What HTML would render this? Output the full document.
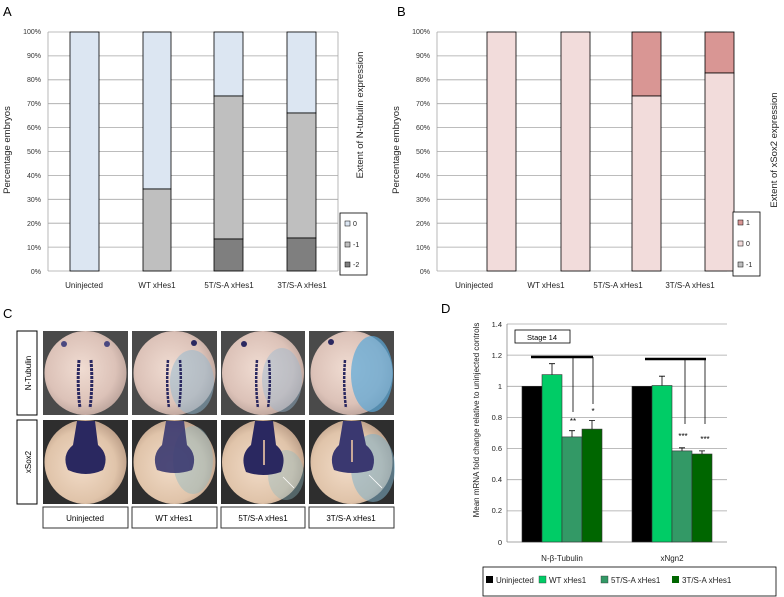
<!DOCTYPE html>
<html><head><meta charset="utf-8"><style>
body{margin:0;background:#fff}
svg{display:block;font-family:"Liberation Sans",sans-serif}
</style></head><body>
<svg width="784" height="597" viewBox="0 0 784 597" xmlns="http://www.w3.org/2000/svg">
<defs>
<radialGradient id="emb" cx="45%" cy="45%" r="60%"><stop offset="0" stop-color="#f0dcd2"/><stop offset="0.7" stop-color="#dcc2b8"/><stop offset="1" stop-color="#b8a098"/></radialGradient>
<radialGradient id="emb2" cx="45%" cy="55%" r="60%"><stop offset="0" stop-color="#f2dcc8"/><stop offset="0.7" stop-color="#e0c4aa"/><stop offset="1" stop-color="#b89a84"/></radialGradient>
</defs>

<!-- Panel A -->
<text x="3" y="16" font-size="13">A</text>
<g stroke="#a6a6a6" stroke-width="0.8">
<line x1="48" x2="338" y1="32" y2="32"/><line x1="48" x2="338" y1="55.9" y2="55.9"/><line x1="48" x2="338" y1="79.8" y2="79.8"/><line x1="48" x2="338" y1="103.7" y2="103.7"/><line x1="48" x2="338" y1="127.6" y2="127.6"/><line x1="48" x2="338" y1="151.5" y2="151.5"/><line x1="48" x2="338" y1="175.4" y2="175.4"/><line x1="48" x2="338" y1="199.3" y2="199.3"/><line x1="48" x2="338" y1="223.2" y2="223.2"/><line x1="48" x2="338" y1="247.1" y2="247.1"/><line x1="48" x2="338" y1="271" y2="271"/>
<line x1="48" x2="48" y1="32" y2="271"/><line x1="338" x2="338" y1="32" y2="271"/>
</g>
<g font-size="7" text-anchor="end" fill="#333">
<text x="41" y="34">100%</text><text x="41" y="58">90%</text><text x="41" y="82">80%</text><text x="41" y="106">70%</text><text x="41" y="130">60%</text><text x="41" y="154">50%</text><text x="41" y="178">40%</text><text x="41" y="202">30%</text><text x="41" y="226">20%</text><text x="41" y="250">10%</text><text x="41" y="274">0%</text>
</g>
<g stroke="#000" stroke-width="0.8">
<rect x="70" y="32" width="29" height="239" fill="#dce6f2"/>
<rect x="143" y="32" width="28" height="157" fill="#dce6f2"/><rect x="143" y="189" width="28" height="82" fill="#bfbfbf"/>
<rect x="214" y="32" width="29" height="64" fill="#dce6f2"/><rect x="214" y="96" width="29" height="143" fill="#bfbfbf"/><rect x="214" y="239" width="29" height="32" fill="#7f7f7f"/>
<rect x="287" y="32" width="29" height="81" fill="#dce6f2"/><rect x="287" y="113" width="29" height="125" fill="#bfbfbf"/><rect x="287" y="238" width="29" height="33" fill="#7f7f7f"/>
</g>
<g font-size="8" text-anchor="middle" fill="#222">
<text x="84" y="288">Uninjected</text><text x="157" y="288">WT xHes1</text><text x="229" y="288">5T/S-A xHes1</text><text x="302" y="288">3T/S-A xHes1</text>
</g>
<text transform="translate(10,150) rotate(-90)" font-size="9.5" text-anchor="middle" fill="#222">Percentage embryos</text>
<text transform="translate(363,115) rotate(-90)" font-size="9.5" text-anchor="middle" fill="#222">Extent of N-tubulin expression</text>
<rect x="340" y="213" width="27" height="62" fill="#fff" stroke="#000" stroke-width="0.8"/>
<g font-size="7" fill="#222"><rect x="345" y="221" width="5" height="5" fill="#dce6f2" stroke="#000" stroke-width="0.5"/><text x="353" y="226">0</text>
<rect x="345" y="242" width="5" height="5" fill="#bfbfbf" stroke="#000" stroke-width="0.5"/><text x="353" y="247">-1</text>
<rect x="345" y="262" width="5" height="5" fill="#7f7f7f" stroke="#000" stroke-width="0.5"/><text x="353" y="267">-2</text></g>

<!-- Panel B -->
<text x="397" y="16" font-size="13">B</text>
<g stroke="#a6a6a6" stroke-width="0.8">
<line x1="437" x2="727" y1="32" y2="32"/><line x1="437" x2="727" y1="55.9" y2="55.9"/><line x1="437" x2="727" y1="79.8" y2="79.8"/><line x1="437" x2="727" y1="103.7" y2="103.7"/><line x1="437" x2="727" y1="127.6" y2="127.6"/><line x1="437" x2="727" y1="151.5" y2="151.5"/><line x1="437" x2="727" y1="175.4" y2="175.4"/><line x1="437" x2="727" y1="199.3" y2="199.3"/><line x1="437" x2="727" y1="223.2" y2="223.2"/><line x1="437" x2="727" y1="247.1" y2="247.1"/><line x1="437" x2="727" y1="271" y2="271"/>
<line x1="437" x2="437" y1="32" y2="271"/><line x1="727" x2="727" y1="32" y2="271"/>
</g>
<g font-size="7" text-anchor="end" fill="#333">
<text x="430" y="34">100%</text><text x="430" y="58">90%</text><text x="430" y="82">80%</text><text x="430" y="106">70%</text><text x="430" y="130">60%</text><text x="430" y="154">50%</text><text x="430" y="178">40%</text><text x="430" y="202">30%</text><text x="430" y="226">20%</text><text x="430" y="250">10%</text><text x="430" y="274">0%</text>
</g>
<g stroke="#000" stroke-width="0.8">
<rect x="487" y="32" width="29" height="239" fill="#f2dcdb"/>
<rect x="561" y="32" width="29" height="239" fill="#f2dcdb"/>
<rect x="632" y="32" width="29" height="64" fill="#d99694"/><rect x="632" y="96" width="29" height="175" fill="#f2dcdb"/>
<rect x="705" y="32" width="29" height="41" fill="#d99694"/><rect x="705" y="73" width="29" height="198" fill="#f2dcdb"/>
</g>
<g font-size="8" text-anchor="middle" fill="#222">
<text x="474" y="288">Uninjected</text><text x="546" y="288">WT xHes1</text><text x="618" y="288">5T/S-A xHes1</text><text x="690" y="288">3T/S-A xHes1</text>
</g>
<text transform="translate(399,150) rotate(-90)" font-size="9.5" text-anchor="middle" fill="#222">Percentage embryos</text>
<text transform="translate(777,150) rotate(-90)" font-size="9.5" text-anchor="middle" fill="#222">Extent of xSox2 expression</text>
<rect x="733" y="212" width="27" height="64" fill="#fff" stroke="#000" stroke-width="0.8"/>
<g font-size="7" fill="#222"><rect x="738" y="220" width="5" height="5" fill="#d99694" stroke="#000" stroke-width="0.5"/><text x="746" y="225">1</text>
<rect x="738" y="241" width="5" height="5" fill="#f2dcdb" stroke="#000" stroke-width="0.5"/><text x="746" y="246">0</text>
<rect x="738" y="262" width="5" height="5" fill="#bfbfbf" stroke="#000" stroke-width="0.5"/><text x="746" y="267">-1</text></g>

<!-- Panel C -->
<text x="3" y="318" font-size="13">C</text>
<rect x="17" y="331" width="20" height="84" fill="#fff" stroke="#000" stroke-width="1"/>
<text transform="translate(31,373) rotate(-90)" font-size="8" text-anchor="middle">N-Tubulin</text>
<rect x="17" y="420" width="20" height="84" fill="#fff" stroke="#000" stroke-width="1"/>
<text transform="translate(31,462) rotate(-90)" font-size="8" text-anchor="middle">xSox2</text>
<g>
<rect x="43" y="331" width="85" height="84" fill="#4a4a4a"/><ellipse cx="85.5" cy="373" rx="41" ry="42" fill="url(#emb)"/>
<path d="M79 360 Q77 385 80 408 M91 360 Q93 385 90 408" stroke="#2a2860" stroke-width="3" stroke-dasharray="3 1" fill="none"/>
<circle cx="64" cy="344" r="3" fill="#4a4880"/><circle cx="107" cy="344" r="3" fill="#4a4880"/>
<rect x="132" y="331" width="85" height="84" fill="#4a4a4a"/><ellipse cx="174.5" cy="373" rx="41" ry="42" fill="url(#emb)"/><ellipse cx="192" cy="382" rx="22" ry="32" fill="#8fb8d0" opacity="0.5"/>
<path d="M168 360 Q166 385 169 408 M180 360 Q182 385 179 408" stroke="#2a2860" stroke-width="2.5" stroke-dasharray="3 1" fill="none"/>
<circle cx="194" cy="343" r="3" fill="#2a2860"/>
<rect x="221" y="331" width="84" height="84" fill="#4a4a4a"/><ellipse cx="263" cy="373" rx="41" ry="42" fill="url(#emb)"/><ellipse cx="282" cy="380" rx="20" ry="32" fill="#9ab8d0" opacity="0.45"/>
<path d="M257 360 Q255 385 258 408 M269 360 Q271 385 268 408" stroke="#2a2860" stroke-width="2.5" stroke-dasharray="3 1" fill="none"/>
<circle cx="244" cy="344" r="3" fill="#2a2860"/>
<rect x="309" y="331" width="85" height="84" fill="#4a4a4a"/><ellipse cx="351.5" cy="373" rx="41" ry="42" fill="url(#emb)"/><ellipse cx="372" cy="374" rx="21" ry="38" fill="#5aa8d8" opacity="0.7"/>
<path d="M345 360 Q343 385 346 408" stroke="#2a2860" stroke-width="2.5" stroke-dasharray="3 1" fill="none"/>
<circle cx="331" cy="342" r="3" fill="#2a2860"/>
</g>
<g>
<rect x="43" y="420" width="85" height="84" fill="#2e2e2e"/><ellipse cx="85.5" cy="462" rx="41" ry="42" fill="url(#emb2)"/>
<path d="M77 421 L95 421 L98 445 Q110 455 103 470 Q86 478 68 470 Q61 455 73 445 Z" fill="#2a2860"/>
<rect x="132" y="420" width="85" height="84" fill="#2e2e2e"/><ellipse cx="174.5" cy="462" rx="41" ry="42" fill="url(#emb2)"/><ellipse cx="193" cy="460" rx="20" ry="34" fill="#8fb8c0" opacity="0.45"/>
<path d="M166 421 L184 421 L187 445 Q198 455 192 470 Q175 476 157 470 Q151 455 162 445 Z" fill="#3a3870" opacity="0.9"/>
<rect x="221" y="420" width="84" height="84" fill="#2e2e2e"/><ellipse cx="263" cy="462" rx="41" ry="42" fill="url(#emb2)"/><ellipse cx="286" cy="475" rx="18" ry="25" fill="#8fb8c0" opacity="0.4"/>
<path d="M255 421 L273 421 L276 445 Q288 455 281 472 Q263 478 246 472 Q239 455 251 445 Z" fill="#2a2860"/>
<line x1="264" y1="440" x2="264" y2="465" stroke="#c8a898" stroke-width="2"/>
<line x1="294" y1="488" x2="283" y2="477" stroke="#fff" stroke-width="0.8"/>
<rect x="309" y="420" width="85" height="84" fill="#2e2e2e"/><ellipse cx="351.5" cy="462" rx="41" ry="42" fill="url(#emb2)"/><ellipse cx="373" cy="468" rx="22" ry="34" fill="#7fb0c8" opacity="0.55"/>
<path d="M343 421 L361 421 L366 445 Q378 455 372 470 Q352 476 334 470 Q328 455 339 445 Z" fill="#3a3870"/>
<line x1="352" y1="440" x2="352" y2="462" stroke="#c8a898" stroke-width="2"/>
<line x1="382" y1="488" x2="369" y2="475" stroke="#fff" stroke-width="0.8"/>
</g>
<g fill="#fff" stroke="#333" stroke-width="1">
<rect x="43" y="507" width="85" height="21"/><rect x="132" y="507" width="85" height="21"/><rect x="221" y="507" width="84" height="21"/><rect x="309" y="507" width="85" height="21"/>
</g>
<g font-size="8" text-anchor="middle"><text x="85" y="521">Uninjected</text><text x="174" y="521">WT xHes1</text><text x="263" y="521">5T/S-A xHes1</text><text x="351" y="521">3T/S-A xHes1</text></g>

<!-- Panel D -->
<text x="441" y="313" font-size="13">D</text>
<g stroke="#a6a6a6" stroke-width="0.8">
<line x1="507" x2="727" y1="324" y2="324"/><line x1="507" x2="727" y1="355.1" y2="355.1"/><line x1="507" x2="727" y1="386.3" y2="386.3"/><line x1="507" x2="727" y1="417.4" y2="417.4"/><line x1="507" x2="727" y1="448.6" y2="448.6"/><line x1="507" x2="727" y1="479.7" y2="479.7"/><line x1="507" x2="727" y1="510.9" y2="510.9"/>
</g>
<line x1="507" x2="727" y1="542" y2="542" stroke="#888" stroke-width="0.8"/>
<line x1="507" x2="507" y1="324" y2="542" stroke="#888" stroke-width="0.8"/>
<g font-size="7.5" text-anchor="end" fill="#222">
<text x="502" y="327">1.4</text><text x="502" y="358">1.2</text><text x="502" y="389">1</text><text x="502" y="420">0.8</text><text x="502" y="451">0.6</text><text x="502" y="482">0.4</text><text x="502" y="513">0.2</text><text x="502" y="545">0</text>
</g>
<text transform="translate(479,420) rotate(-90)" font-size="8" text-anchor="middle" fill="#222">Mean mRNA fold change relative to uninjected controls</text>
<g stroke="#333" stroke-width="0.6">
<rect x="522" y="386.3" width="20" height="155.7" fill="#000"/>
<rect x="542" y="374.6" width="20" height="167.4" fill="#00cc66"/>
<rect x="562" y="436.9" width="20" height="105.1" fill="#339966"/>
<rect x="582" y="429.1" width="20" height="112.9" fill="#006600"/>
<rect x="632" y="386.3" width="20" height="155.7" fill="#000"/>
<rect x="652" y="385.5" width="20" height="156.5" fill="#00cc66"/>
<rect x="672" y="450.9" width="20" height="91.1" fill="#339966"/>
<rect x="692" y="454" width="20" height="88" fill="#006600"/>
</g>
<g stroke="#000" stroke-width="0.8" fill="none">
<path d="M552 374.6V363.7M549 363.7h6"/><path d="M572 436.9V430.7M569 430.7h6"/><path d="M592 429.1V420.5M589 420.5h6"/>
<path d="M662 385.5V376.2M659 376.2h6"/><path d="M682 450.9V447.8M679 447.8h6"/><path d="M702 454V450.9M699 450.9h6"/>
</g>
<line x1="531" x2="593" y1="357" y2="357" stroke="#000" stroke-width="2.5"/>
<line x1="573" x2="573" y1="357" y2="412" stroke="#000" stroke-width="0.8"/>
<line x1="593" x2="593" y1="357" y2="404" stroke="#000" stroke-width="0.8"/>
<line x1="645" x2="706" y1="359" y2="359" stroke="#000" stroke-width="2.5"/>
<line x1="685" x2="685" y1="359" y2="424" stroke="#000" stroke-width="0.8"/>
<line x1="705" x2="705" y1="359" y2="424" stroke="#000" stroke-width="0.8"/>
<g font-size="8" text-anchor="middle"><text x="573" y="424">**</text><text x="593" y="414">*</text><text x="683" y="439">***</text><text x="705" y="442">***</text></g>
<rect x="515" y="330" width="55" height="13" fill="#fff" stroke="#000" stroke-width="0.8"/>
<text x="542" y="340" font-size="7.5" text-anchor="middle">Stage 14</text>
<g font-size="8" text-anchor="middle" fill="#222"><text x="562" y="561">N-β-Tubulin</text><text x="672" y="561">xNgn2</text></g>
<rect x="483" y="567" width="293" height="29" fill="#fff" stroke="#000" stroke-width="0.8"/>
<g font-size="8" fill="#222">
<rect x="486" y="576" width="7" height="7" fill="#000"/><text x="496" y="583">Uninjected</text>
<rect x="539" y="576" width="7" height="7" fill="#00cc66" stroke="#333" stroke-width="0.4"/><text x="549" y="583">WT xHes1</text>
<rect x="601" y="576" width="7" height="7" fill="#339966" stroke="#333" stroke-width="0.4"/><text x="611" y="583">5T/S-A xHes1</text>
<rect x="672" y="576" width="7" height="7" fill="#006600"/><text x="682" y="583">3T/S-A xHes1</text>
</g>
</svg>
</body></html>
